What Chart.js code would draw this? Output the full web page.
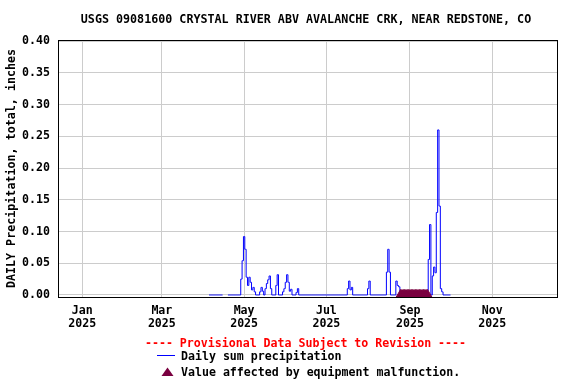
<!DOCTYPE html>
<html>
<head>
<meta charset="utf-8">
<script src="https://cdn.jsdelivr.net/npm/chart.js@4.4.1/dist/chart.umd.min.js"></script>
<style>
    html, body { margin: 0; padding: 0; background: #fff; }
    canvas { display: block; }
</style>
</head>
<body>
<canvas id="precipChart" width="576" height="384"></canvas>
<script>
const chartTitle = 'USGS 09081600 CRYSTAL RIVER ABV AVALANCHE CRK, NEAR REDSTONE, CO';
const yAxisTitle = 'DAILY Precipitation, total, inches';
const provisionalNote = '---- Provisional Data Subject to Revision ----';
const seriesLabel = 'Daily sum precipitation';
const malfunctionLabel = 'Value affected by equipment malfunction.';

// daily values, one per day starting at firstDate (null = missing)
const firstDate = '2025-04-05';
const dailyPrecip = [
    0, 0, 0, 0, 0, 0, 0, 0, 0, 0, 0,
    null, null, null,
    0, 0, 0, 0, 0, 0, 0, 0, 0, 0,
    0.025, 0.054, 0.092, 0.072, 0.028, 0.015, 0.028, 0.02, 0.008, 0.012,
    0.005, 0, 0, 0, 0.005, 0.012, 0.006, 0, 0.01, 0.018,
    0.024, 0.03, 0.01, 0, 0, 0, 0.015, 0.032, 0, 0,
    0, 0.005, 0.01, 0.02, 0.032, 0.02, 0.006, 0.009, 0, 0,
    0, 0.004, 0.01,
    0, 0, 0, 0, 0, 0, 0, 0, 0, 0, 0, 0, 0, 0, 0, 0, 0, 0,
    0, 0, 0, 0, 0, 0, 0, 0, 0, 0, 0, 0, 0, 0, 0, 0, 0, 0,
    0.01, 0.022, 0.008, 0.012,
    0, 0, 0, 0, 0, 0, 0, 0, 0, 0, 0,
    0.01, 0.022,
    0, 0, 0, 0, 0, 0, 0, 0, 0, 0, 0, 0,
    0.036, 0.072, 0.036,
    0, 0, 0, 0,
    0.022, 0.015, 0.013,
    0, 0, 0, 0, 0, 0, 0, 0, 0, 0, 0, 0, 0, 0, 0, 0, 0, 0, 0, 0, 0,
    0.056, 0.111, 0, 0.03, 0.044, 0.035, 0.13, 0.26, 0.14, 0.01, 0.005,
    0, 0, 0, 0, 0, 0
];

const malfunctionDates = [
    '2025-08-25', '2025-08-26', '2025-08-27', '2025-08-28', '2025-08-29', '2025-08-30', '2025-08-31',
    '2025-09-01', '2025-09-02', '2025-09-03', '2025-09-04', '2025-09-05', '2025-09-06', '2025-09-07',
    '2025-09-08', '2025-09-09', '2025-09-10', '2025-09-11', '2025-09-12', '2025-09-13', '2025-09-14'
];

const xRange = ['2024-12-14', '2025-12-19'];
const tickDates = ['2025-01-01', '2025-03-01', '2025-05-01', '2025-07-01', '2025-09-01', '2025-11-01'];
const tickLabels = [['Jan', '2025'], ['Mar', '2025'], ['May', '2025'], ['Jul', '2025'], ['Sep', '2025'], ['Nov', '2025']];
const yTicks = [0, 0.05, 0.10, 0.15, 0.20, 0.25, 0.30, 0.35, 0.40];

const FONT_FAMILY = "'DejaVu Sans Mono', monospace";
const monoFont = { family: FONT_FAMILY, size: 11.6, weight: 'bold', lineHeight: 1.1 };

function toDay(s) {
    const [y, m, d] = s.split('-').map(Number);
    return (Date.UTC(y, m - 1, d) - Date.UTC(2025, 0, 1)) / 86400000;
}

document.addEventListener('DOMContentLoaded', function () {
    const startDay = toDay(firstDate);
    const precipPoints = dailyPrecip.map((v, i) => ({ x: startDay + i, y: v }));
    const malfunctionPoints = malfunctionDates.map(s => ({ x: toDay(s), y: 0 }));

    const decor = {
        id: 'usgsDecor',
        afterDraw(chart) {
            const ctx = chart.ctx;
            const a = chart.chartArea;
            ctx.save();
            // plot frame
            ctx.strokeStyle = '#000';
            ctx.lineWidth = 1;
            ctx.strokeRect(a.left + 0.5, a.top + 0.5, a.right - a.left, a.bottom - a.top);

            ctx.font = 'bold 11.7px ' + FONT_FAMILY;
            ctx.textBaseline = 'middle';
            ctx.textAlign = 'center';
            ctx.fillStyle = '#000';
            ctx.fillText(chartTitle, 306, 20);

            ctx.font = 'bold 11.6px ' + FONT_FAMILY;
            ctx.fillStyle = '#ff0000';
            ctx.fillText(provisionalNote, 305.5, 343.5);

            ctx.textAlign = 'left';
            ctx.fillStyle = '#000';
            ctx.fillText(seriesLabel, 181, 357);
            ctx.fillText(malfunctionLabel, 181, 372.5);

            ctx.strokeStyle = '#0000ff';
            ctx.beginPath();
            ctx.moveTo(157, 355.5);
            ctx.lineTo(175, 355.5);
            ctx.stroke();

            ctx.fillStyle = '#7a0040';
            ctx.beginPath();
            ctx.moveTo(161.5, 376);
            ctx.lineTo(173.5, 376);
            ctx.lineTo(167.5, 367.5);
            ctx.closePath();
            ctx.fill();
            ctx.restore();
        }
    };

    new Chart(document.getElementById('precipChart'), {
        type: 'line',
        data: {
            datasets: [{
                label: malfunctionLabel,
                data: malfunctionPoints,
                showLine: false,
                pointStyle: 'triangle',
                pointRadius: 5.5,
                pointBackgroundColor: '#7a0040',
                pointBorderColor: '#7a0040',
                pointBorderWidth: 1,
                order: 0
            }, {
                label: seriesLabel,
                data: precipPoints,
                borderColor: '#0000ff',
                borderWidth: 1,
                stepped: 'middle',
                pointRadius: 0,
                fill: false,
                spanGaps: false,
                order: 1
            }]
        },
        options: {
            responsive: false,
            animation: false,
            devicePixelRatio: 1,
            layout: { padding: { left: 0, right: 19, top: 40, bottom: 47 } },
            scales: {
                x: {
                    type: 'linear',
                    min: toDay(xRange[0]),
                    max: toDay(xRange[1]),
                    afterBuildTicks: scale => { scale.ticks = tickDates.map(s => ({ value: toDay(s) })); },
                    afterFit: scale => { scale.height = 40; },
                    ticks: {
                        autoSkip: false,
                        maxRotation: 0,
                        padding: 8,
                        color: '#000',
                        font: monoFont,
                        callback: (value, index) => tickLabels[index]
                    },
                    grid: { color: '#cccccc', lineWidth: 1, drawTicks: false },
                    border: { display: false }
                },
                y: {
                    min: -0.00315,
                    max: 0.4016,
                    afterBuildTicks: scale => { scale.ticks = yTicks.map(v => ({ value: v })); },
                    afterFit: scale => { scale.width = 58; },
                    ticks: {
                        padding: 8,
                        color: '#000',
                        font: monoFont,
                        callback: value => value.toFixed(2)
                    },
                    grid: { color: '#cccccc', lineWidth: 1, drawTicks: false },
                    border: { display: false },
                    title: {
                        display: true,
                        text: yAxisTitle,
                        color: '#000',
                        font: { family: FONT_FAMILY, size: 11.7, weight: 'bold', lineHeight: 1.2 },
                        padding: { top: 5, bottom: 0 }
                    }
                }
            },
            plugins: {
                legend: { display: false },
                tooltip: { enabled: false },
                title: { display: false }
            }
        },
        plugins: [decor]
    });
});
</script>
</body>
</html>
